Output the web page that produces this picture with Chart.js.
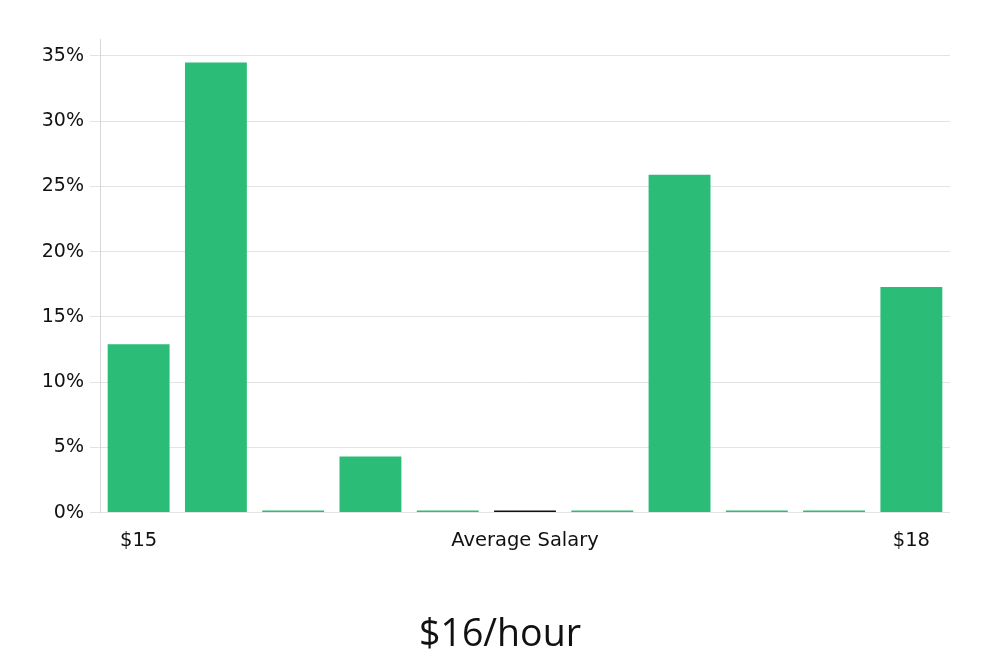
<!DOCTYPE html>
<html>
<head>
<meta charset="utf-8">
<script src="https://cdn.jsdelivr.net/npm/chart.js@4"></script>
<style>
    html, body { margin: 0; padding: 0; background: #fff; }
    #wrap { width: 1000px; height: 660px; }
</style>
</head>
<body>
<div id="wrap"><canvas id="salaryChart"></canvas></div>
<script>
// bins from $15 to $18, share of reports per bin (%)
const binLabels = ['$15', '', '', '', '', 'Average Salary', '', '', '', '', '$18'];
const sharePercent = [12.9, 34.5, 0, 4.3, 0, 0, 0, 25.9, 0, 0, 17.3];
const averageIndex = 5;
const yTicks = [0, 5, 10, 15, 20, 25, 30, 35];
const chartTitle = '$16/hour';

const green = 'rgb(43, 189, 119)';
const barColors = sharePercent.map((v, i) => i === averageIndex ? '#111' : green);

const ctx = document.getElementById('salaryChart').getContext('2d');
const salaryChart = new Chart(ctx, {
    type: 'bar',
    data: {
        labels: binLabels,
        datasets: [{
            data: sharePercent,
            backgroundColor: barColors,
            borderWidth: 0,
            minBarLength: 2,
            barPercentage: 0.9,
            categoryPercentage: 0.89
        }]
    },
    options: {
        responsive: true,
        maintainAspectRatio: false,
        animation: false,
        layout: {
            padding: { left: 40, right: 40, top: 39, bottom: 0 }
        },
        scales: {
            x: {
                grid: { display: false },
                border: { display: false },
                ticks: {
                    autoSkip: false,
                    maxRotation: 0,
                    color: '#111',
                    padding: 9,
                    font: { family: 'DejaVu Sans', size: 19.5 }
                }
            },
            y: {
                min: 0,
                max: 36.3,
                afterBuildTicks: function (axis) {
                    axis.ticks = yTicks.map(v => ({ value: v }));
                },
                afterFit: function (axis) {
                    axis.width = 60;
                },
                grid: { color: '#e3e3e3', tickLength: 10 },
                border: { color: '#d6d6d6' },
                ticks: {
                    color: '#111',
                    padding: 6,
                    font: { family: 'DejaVu Sans', size: 19 },
                    callback: function (value) {
                        return value + '%';
                    }
                }
            },
            // empty spacer on the right so the title stays centred on the page
            spacer: {
                position: 'right',
                grid: { display: false },
                border: { display: false },
                ticks: { display: false },
                afterFit: function (axis) {
                    axis.width = 10;
                }
            }
        },
        plugins: {
            legend: { display: false },
            tooltip: { enabled: false },
            title: {
                display: true,
                text: chartTitle,
                position: 'bottom',
                color: '#111',
                font: { family: 'Open Sans', size: 37.5, weight: 'normal' },
                padding: { top: 51, bottom: 2 }
            }
        }
    }
});
</script>
</body>
</html>
